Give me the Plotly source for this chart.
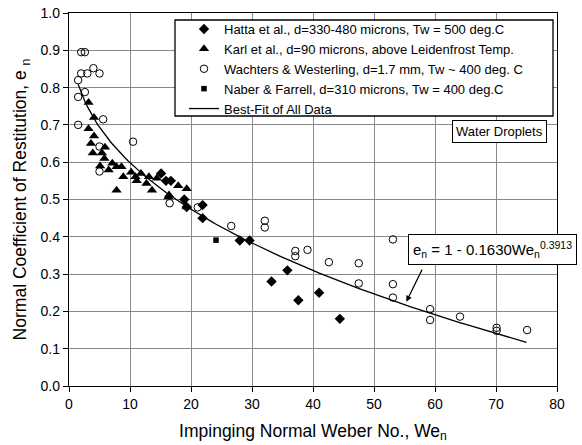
import numpy as np
import plotly.graph_objects as go

# Hatta et al. (diamonds)
hatta_we = [15.1, 15.9, 16.7, 18.9, 19.3, 21.9, 21.9, 28.0, 29.6, 33.2, 35.8, 37.6, 41.0, 44.4]
hatta_e = [0.57, 0.55, 0.55, 0.50, 0.48, 0.485, 0.45, 0.39, 0.39, 0.28, 0.31, 0.23, 0.25, 0.18]

# Karl et al. (triangles)
karl_we = [3.2, 4.1, 3.2, 4.1, 3.6, 3.9, 5.9, 5.4, 5.8, 5.1, 7.1, 6.5, 7.8, 8.6, 8.9, 7.8,
           10.2, 10.9, 11.1, 11.8, 13.1, 12.7, 13.6, 14.4, 16.3, 16.4, 17.9, 19.3, 19.3]
karl_e = [0.76, 0.72, 0.69, 0.67, 0.65, 0.625, 0.64, 0.625, 0.61, 0.59, 0.597, 0.579, 0.588,
          0.588, 0.561, 0.525, 0.573, 0.561, 0.55, 0.57, 0.561, 0.543, 0.525, 0.557, 0.507,
          0.512, 0.537, 0.529, 0.48]

# Wachters & Westerling (open circles)
wach_we = [1.5, 1.5, 1.5, 2.0, 2.6, 2.0, 3.0, 4.0, 5.0, 2.6, 5.6, 5.0, 5.0, 10.5, 16.5, 21.1,
           26.6, 32.1, 32.1, 37.1, 37.1, 39.1, 42.6, 47.5, 47.5, 53.1, 53.1, 53.1, 59.2, 59.2,
           64.1, 70.1, 70.1, 75.1]
wach_e = [0.82, 0.775, 0.70, 0.895, 0.895, 0.838, 0.838, 0.852, 0.838, 0.788, 0.715, 0.642,
          0.575, 0.655, 0.49, 0.479, 0.429, 0.443, 0.425, 0.362, 0.348, 0.365, 0.332, 0.329,
          0.275, 0.393, 0.273, 0.237, 0.206, 0.177, 0.186, 0.156, 0.148, 0.15]

# Naber & Farrell (square)
naber_we = [24.1]
naber_e = [0.391]

# Best-fit correlation e_n = 1 - a * We_n^b
fit_a = 0.1630
fit_b = 0.3913
fit_we = np.linspace(1.5, 75, 200)
fit_e = 1 - fit_a * fit_we ** fit_b

x_ticks = list(range(0, 81, 10))
y_ticks = [round(0.1 * i, 1) for i in range(11)]

FONT = "Arial, Liberation Sans, sans-serif"

fig = go.Figure()
fig.add_trace(go.Scatter(
    x=hatta_we, y=hatta_e, mode="markers",
    name="Hatta et al., d=330-480 microns, Tw = 500 deg.C",
    marker=dict(symbol="diamond", size=8, color="black")))
fig.add_trace(go.Scatter(
    x=karl_we, y=karl_e, mode="markers",
    name="Karl et al., d=90 microns, above Leidenfrost Temp.",
    marker=dict(symbol="triangle-up", size=9, color="black")))
fig.add_trace(go.Scatter(
    x=wach_we, y=wach_e, mode="markers",
    name="Wachters & Westerling, d=1.7 mm, Tw ~ 400 deg. C",
    marker=dict(symbol="circle-open", size=7.5, color="black", line=dict(width=1))))
fig.add_trace(go.Scatter(
    x=naber_we, y=naber_e, mode="markers",
    name="Naber & Farrell, d=310 microns, Tw = 400 deg.C",
    marker=dict(symbol="square", size=5.5, color="black")))
fig.add_trace(go.Scatter(
    x=fit_we, y=fit_e, mode="lines", name="Best-Fit of All Data",
    line=dict(color="black", width=1.3)))

L, R, T, B = 69, 25, 13, 59
W, H = 582, 445
pw, ph = W - L - R, H - T - B


def px_x(p):
    return (p - L) / pw


def px_y(p):
    return (H - B - p) / ph


axis_common = dict(
    showgrid=True, gridcolor="#8a8a8a", gridwidth=1,
    showline=True, linecolor="black", linewidth=1.3, mirror=True,
    ticks="outside", ticklen=5, tickcolor="black", tickwidth=1,
    tickfont=dict(family=FONT, size=14, color="black"),
    zeroline=False, automargin=False,
)

fig.update_layout(
    width=W, height=H,
    margin=dict(l=L, r=R, t=T, b=B),
    paper_bgcolor="white", plot_bgcolor="white",
    font=dict(family=FONT, color="black"),
    xaxis=dict(range=[0, 80], tickvals=x_ticks, **axis_common,
               title=dict(text="Impinging Normal Weber No., We<sub>n</sub>",
                          font=dict(family=FONT, size=17.5, color="black"), standoff=13)),
    yaxis=dict(range=[0, 1], tickvals=y_ticks, tickformat=".1f", **axis_common,
               title=dict(text="Normal Coefficient of Restitution, e <sub>n</sub>",
                          font=dict(family=FONT, size=17.5, color="black"), standoff=9)),
    showlegend=True,
    legend=dict(
        x=px_x(184), y=px_y(14), xanchor="left", yanchor="top",
        bgcolor="rgba(0,0,0,0)", borderwidth=0,
        font=dict(family=FONT, size=13, color="black"),
        tracegroupgap=0, itemwidth=30,
    ),
    shapes=[dict(
        type="rect", xref="paper", yref="paper",
        x0=px_x(175), x1=px_x(553), y0=px_y(116), y1=px_y(20),
        fillcolor="white", line=dict(color="black", width=1.3), layer="above")],
    annotations=[
        dict(text="Water Droplets", xref="paper", yref="paper",
             x=px_x(499), y=px_y(131), xanchor="center", yanchor="middle",
             showarrow=False, font=dict(family=FONT, size=13, color="black"),
             bordercolor="black", borderwidth=1, borderpad=3, bgcolor="white"),
        dict(text="e<sub>n</sub> = 1 - 0.1630We<sub>n</sub><sup>0.3913</sup>",
             xref="paper", yref="paper",
             x=px_x(492.5), y=px_y(249), xanchor="center", yanchor="middle",
             showarrow=False, font=dict(family=FONT, size=15, color="black"),
             bordercolor="black", borderwidth=1, borderpad=4, bgcolor="white"),
        dict(text="", x=55.3, y=0.226, xref="x", yref="y",
             ax=58.0, ay=0.316, axref="x", ayref="y",
             showarrow=True, arrowhead=2, arrowsize=1, arrowwidth=1.2,
             arrowcolor="black"),
    ],
)

fig.write_html("out.html")
